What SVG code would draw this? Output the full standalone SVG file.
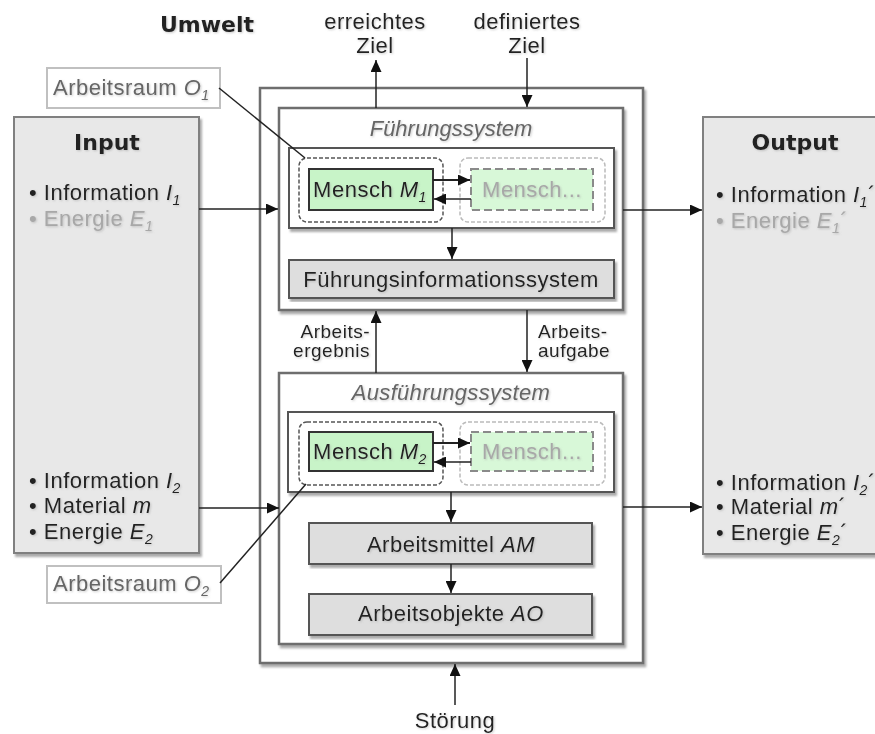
<svg xmlns="http://www.w3.org/2000/svg" width="875" height="734" viewBox="0 0 875 734">
<defs>
<style>
text{font-family:"Liberation Sans",Arial,sans-serif;font-size:22px;fill:#222;letter-spacing:0.5px;filter:url(#tsh)}
.title{font-family:"DejaVu Sans","Liberation Sans",sans-serif;font-weight:bold;font-size:22px;letter-spacing:0}
.c{text-anchor:middle}
.grey{fill:#a8a8a8}
.lab{fill:#666}
.it{font-style:italic}
.sub{font-size:14px;font-style:italic}
.small{font-size:19px}
.io{fill:#e8e8e8;stroke:#808080;stroke-width:2;filter:url(#sh)}
.sys{fill:#fff;stroke:#6e6e6e;stroke-width:2.5;filter:url(#sh)}
.cont{fill:#fff;stroke:#555;stroke-width:2;filter:url(#sh)}
.grey-box{fill:#dedede;stroke:#555;stroke-width:2;filter:url(#sh)}
.men{fill:#c8f4c8;stroke:#333;stroke-width:2}
.men2{fill:#d8f8d8;stroke:#8a8a8a;stroke-width:2;stroke-dasharray:8 4}
.dash1{fill:none;stroke:#555;stroke-width:1.5;stroke-dasharray:4 2}
.dash2{fill:none;stroke:#bbb;stroke-width:1.5;stroke-dasharray:4 2}
.ar{fill:#fff;stroke:#c0c0c0;stroke-width:2}
.con{stroke:#222;stroke-width:1.5;fill:none}
.arr{marker-end:url(#ah)}
</style>
<marker id="ah" markerUnits="userSpaceOnUse" markerWidth="13" markerHeight="11" refX="12" refY="5.5" orient="auto">
<path d="M0,0 L12,5.5 L0,11 z" fill="#111"/>
</marker>
<filter id="sh" x="-5%" y="-5%" width="115%" height="115%">
<feDropShadow dx="2" dy="3" stdDeviation="1.2" flood-color="#888" flood-opacity="0.7"/>
</filter>
<filter id="tsh" x="-5%" y="-20%" width="115%" height="150%">
<feDropShadow dx="1" dy="1" stdDeviation="0.8" flood-color="#999" flood-opacity="0.5"/>
</filter>
</defs>

<g id="umwelt"><text class="title c" x="207" y="32">Umwelt</text></g>

<g id="erreichtes-ziel">
<text class="c" x="375" y="29">erreichtes</text>
<text class="c" x="375" y="53">Ziel</text>
</g>
<g id="definiertes-ziel">
<text class="c" x="527" y="29">definiertes</text>
<text class="c" x="527" y="53">Ziel</text>
</g>

<g id="input">
<rect class="io" x="14" y="117" width="185" height="436"/>
<text class="title c" x="107" y="150">Input</text>
<text x="29" y="200">• Information <tspan class="it">I</tspan><tspan class="sub" dy="5">1</tspan></text>
<text class="grey" x="29" y="226">• Energie <tspan class="it">E</tspan><tspan class="sub" dy="5">1</tspan></text>
<text x="29" y="488">• Information <tspan class="it">I</tspan><tspan class="sub" dy="5">2</tspan></text>
<text x="29" y="513">• Material <tspan class="it">m</tspan></text>
<text x="29" y="539">• Energie <tspan class="it">E</tspan><tspan class="sub" dy="5">2</tspan></text>
</g>

<g id="output">
<rect class="io" x="703" y="117" width="185" height="437"/>
<text class="title c" x="795" y="150">Output</text>
<text x="716" y="202">• Information <tspan class="it">I</tspan><tspan class="sub" dy="5">1</tspan><tspan dy="-5">´</tspan></text>
<text class="grey" x="716" y="228">• Energie <tspan class="it">E</tspan><tspan class="sub" dy="5">1</tspan><tspan dy="-5">´</tspan></text>
<text x="716" y="490">• Information <tspan class="it">I</tspan><tspan class="sub" dy="5">2</tspan><tspan dy="-5">´</tspan></text>
<text x="716" y="514">• Material <tspan class="it">m</tspan>´</text>
<text x="716" y="540">• Energie <tspan class="it">E</tspan><tspan class="sub" dy="5">2</tspan><tspan dy="-5">´</tspan></text>
</g>

<g id="system">
<rect class="sys" x="260" y="88" width="383" height="575"/>
</g>

<g id="fuehrungssystem">
<rect class="sys" x="279" y="108" width="344" height="202"/>
<text class="c it lab" x="451" y="136" style="letter-spacing:0">Führungssystem</text>
<rect class="cont" x="289" y="148" width="325" height="80"/>
</g>

<g id="arbeitsraum-o1-zone"><rect class="dash1" x="299" y="158" width="144" height="64" rx="8"/></g>
<g id="mensch-m1">
<rect class="men" x="309" y="169" width="124" height="41"/>
<text class="c" x="370" y="197">Mensch <tspan class="it">M</tspan><tspan class="sub" dy="5">1</tspan></text>
</g>
<g id="mensch-1b">
<rect class="dash2" x="460" y="158" width="145" height="64" rx="8"/>
<rect class="men2" x="471" y="169" width="122" height="41"/>
<text class="c grey" x="532" y="197">Mensch...</text>
</g>

<g id="fuehrungsinformationssystem">
<rect class="grey-box" x="289" y="260" width="325" height="38"/>
<text class="c" x="451" y="287">Führungsinformationssystem</text>
</g>

<g id="ausfuehrungssystem">
<rect class="sys" x="279" y="373" width="344" height="271"/>
<text class="c it lab" x="451" y="400" style="letter-spacing:0.3px">Ausführungssystem</text>
<rect class="cont" x="288" y="412" width="326" height="80"/>
</g>

<g id="arbeitsraum-o2-zone"><rect class="dash1" x="299" y="422" width="144" height="63" rx="8"/></g>
<g id="mensch-m2">
<rect class="men" x="309" y="432" width="124" height="39"/>
<text class="c" x="370" y="459">Mensch <tspan class="it">M</tspan><tspan class="sub" dy="5">2</tspan></text>
</g>
<g id="mensch-2b">
<rect class="dash2" x="460" y="422" width="145" height="63" rx="8"/>
<rect class="men2" x="471" y="432" width="122" height="39"/>
<text class="c grey" x="532" y="459">Mensch...</text>
</g>

<g id="arbeitsmittel">
<rect class="grey-box" x="309" y="523" width="283" height="41"/>
<text class="c" x="451" y="552">Arbeitsmittel <tspan class="it">AM</tspan></text>
</g>
<g id="arbeitsobjekte">
<rect class="grey-box" x="309" y="594" width="283" height="41"/>
<text class="c" x="451" y="621">Arbeitsobjekte <tspan class="it">AO</tspan></text>
</g>

<g id="arbeitsraum-o1">
<rect class="ar" x="47" y="68" width="173" height="40"/>
<text class="lab" x="53" y="95">Arbeitsraum <tspan class="it">O</tspan><tspan class="sub" dy="5">1</tspan></text>
</g>
<g id="arbeitsraum-o2">
<rect class="ar" x="47" y="566" width="174" height="37"/>
<text class="lab" x="53" y="591">Arbeitsraum <tspan class="it">O</tspan><tspan class="sub" dy="5">2</tspan></text>
</g>

<g id="stoerung"><text class="c" x="455" y="728">Störung</text></g>

<g id="labels">
<text class="small" x="370" y="338" text-anchor="end">Arbeits-</text>
<text class="small" x="370" y="357" text-anchor="end">ergebnis</text>
<text class="small" x="538" y="338">Arbeits-</text>
<text class="small" x="538" y="357">aufgabe</text>
</g>

<g id="connectors">
<line class="con arr" x1="376" y1="108" x2="376" y2="60"/>
<line class="con arr" x1="527" y1="58" x2="527" y2="107"/>
<line class="con arr" x1="199" y1="209" x2="278" y2="209"/>
<line class="con arr" x1="623" y1="210" x2="702" y2="210"/>
<line class="con arr" x1="199" y1="508" x2="279" y2="508"/>
<line class="con arr" x1="623" y1="507" x2="702" y2="507"/>
<line class="con arr" x1="376" y1="373" x2="376" y2="311"/>
<line class="con arr" x1="527" y1="310" x2="527" y2="372"/>
<line class="con arr" x1="455" y1="705" x2="455" y2="664"/>
<line class="con arr" x1="452" y1="228" x2="452" y2="259"/>
<line class="con arr" x1="451" y1="492" x2="451" y2="522"/>
<line class="con arr" x1="451" y1="564" x2="451" y2="593"/>
<line class="con arr" x1="433" y1="180" x2="470" y2="180" style="stroke-width:2"/>
<line class="con arr" x1="471" y1="199" x2="434" y2="199"/>
<line class="con arr" x1="433" y1="443" x2="470" y2="443" style="stroke-width:2"/>
<line class="con arr" x1="471" y1="462" x2="434" y2="462"/>
<line class="con" x1="219" y1="88" x2="305" y2="158"/>
<line class="con" x1="220" y1="583" x2="306" y2="484"/>
</g>
</svg>
